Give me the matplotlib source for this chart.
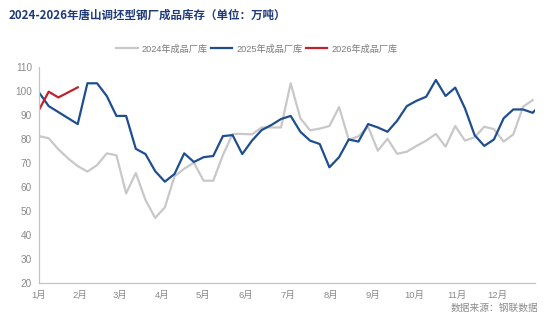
import matplotlib
matplotlib.use("Agg")
import matplotlib.pyplot as plt

plt.rcParams['font.family'] = ['Liberation Sans', 'Noto Sans CJK SC', 'DejaVu Sans']

# Weekly finished-product inventory (10k tonnes), one value per week from early January
inv_2024 = [81.1, 80.2, 75.6, 71.8, 68.6, 66.3, 69.0, 73.9, 73.1, 57.2,
            65.7, 54.5, 47.0, 51.4, 64.3, 67.5, 70.0, 62.5, 62.5, 73.2,
            82.0, 82.0, 81.8, 84.7, 84.7, 84.7, 103.1, 88.5, 83.5, 84.2,
            85.3, 93.2, 79.6, 81.0, 85.0, 75.0, 80.0, 73.7, 74.6, 77.0,
            79.2, 82.0, 76.7, 85.3, 79.2, 80.6, 85.0, 84.0, 78.8, 81.8,
            93.3, 96.1]
inv_2025 = [99.3, 93.6, 91.1, 88.6, 86.1, 103.1, 103.1, 97.8, 89.5, 89.5,
            75.8, 73.6, 66.5, 62.1, 65.3, 73.9, 70.3, 72.3, 72.8, 81.1,
            81.5, 73.6, 79.2, 83.6, 85.7, 88.2, 89.5, 82.9, 79.2, 77.8,
            68.1, 72.3, 79.7, 78.8, 86.1, 84.7, 82.9, 87.5, 93.6, 95.8,
            97.5, 104.5, 97.8, 101.3, 92.7, 81.5, 77.0, 79.7, 88.5, 92.2,
            92.2, 90.8, 95.0]
inv_2026 = [92.0, 99.6, 97.2, 99.3, 101.4]

series_names = ['2024年成品厂库', '2025年成品厂库', '2026年成品厂库']
month_labels = ['1月', '2月', '3月', '4月', '5月', '6月', '7月', '8月',
                '9月', '10月', '11月', '12月']
# month label positions on the week axis
month_pos = [0, 4.24, 8.37, 12.7, 16.9, 21.4, 25.7, 30.2, 34.5, 38.8, 43.2, 47.3]
y_ticks = [20, 30, 40, 50, 60, 70, 80, 90, 100, 110]

fig = plt.figure(figsize=(5.54, 3.32), dpi=100)
ax = fig.add_axes([0.0704, 0.1485, 0.8953, 0.6505])

c24, c25, c26 = '#c8c8c8', '#1f4e8f', '#c0212b'
ax.plot(range(len(inv_2024)), inv_2024, color=c24, lw=1.6, label=series_names[0])
ax.plot(range(len(inv_2025)), inv_2025, color=c25, lw=1.6, label=series_names[1])
ax.plot(range(len(inv_2026)), inv_2026, color=c26, lw=1.6, label=series_names[2])

ax.set_xlim(0, 51.24)
ax.set_ylim(20, 110)
ax.set_yticks(y_ticks)
ax.set_xticks(month_pos)
ax.set_xticklabels(month_labels)

for s in ['top', 'right']:
    ax.spines[s].set_visible(False)
for s in ['left', 'bottom']:
    ax.spines[s].set_color('#c4c4c4')
    ax.spines[s].set_linewidth(0.9)

ax.tick_params(axis='y', length=0, pad=5, labelsize=7.2, labelcolor='#8a8a8a')
ax.tick_params(axis='x', length=0, pad=6, labelsize=6.8, labelcolor='#8a8a8a')

fig.text(0.016, 0.955, '2024-2026年唐山调坯型钢厂成品库存（单位：万吨）',
         fontsize=8.3, fontweight='bold', color='#1f3a78',
         family=['Noto Sans CJK SC', 'DejaVu Sans'], va='center', ha='left')

fig.legend(loc='center', bbox_to_anchor=(0.464, 0.852), ncol=3, frameon=False,
           handlelength=2.3, handletextpad=0.45, columnspacing=0.4,
           labelcolor='#7a7a7a', prop={'family': ['Liberation Sans', 'Noto Sans CJK SC'], 'size': 6.6})

fig.text(0.972, 0.072, '数据来源：钢联数据', fontsize=7, color='#8a8a8a',
         family=['Noto Sans CJK SC'], ha='right', va='center')

fig.savefig('out.png', dpi=100)
